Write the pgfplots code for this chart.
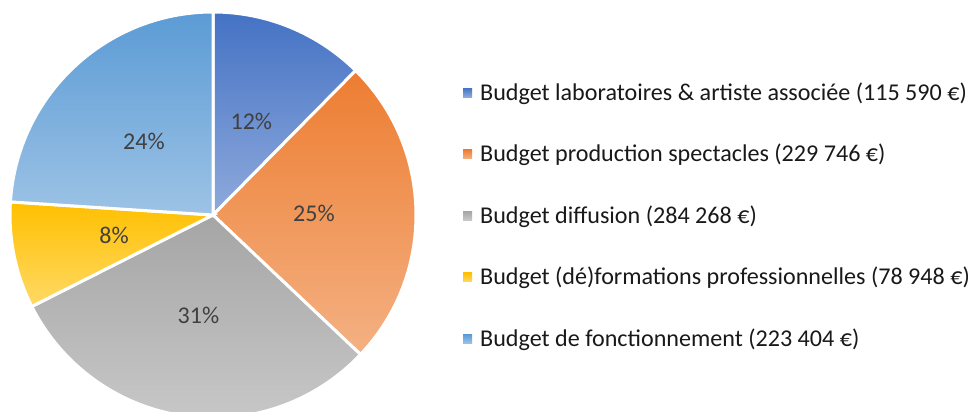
\documentclass[border=0pt]{standalone}
\usepackage{pgfplots}
\pgfplotsset{compat=1.18}
\usepackage{fontspec}
\setmainfont{Carlito}
\definecolor{c1a}{HTML}{4472C4}\definecolor{c1b}{HTML}{8FAADC}
\definecolor{c2a}{HTML}{ED7D31}\definecolor{c2b}{HTML}{F4B183}
\definecolor{c3a}{HTML}{A5A5A5}\definecolor{c3b}{HTML}{C9C9C9}
\definecolor{c4a}{HTML}{FFC000}\definecolor{c4b}{HTML}{FFD966}
\definecolor{c5a}{HTML}{5B9BD5}\definecolor{c5b}{HTML}{9DC3E6}
\definecolor{lbl}{HTML}{404040}
\begin{document}
\begin{tikzpicture}
% values in thousands of euros
\def\vA{115.590}\def\vB{229.746}\def\vC{284.268}\def\vD{78.948}\def\vE{223.404}
\pgfmathsetmacro\tot{\vA+\vB+\vC+\vD+\vE}
\pgfmathsetmacro\aA{90}
\pgfmathsetmacro\aB{\aA-\vA/\tot*360}
\pgfmathsetmacro\aC{\aB-\vB/\tot*360}
\pgfmathsetmacro\aD{\aC-\vC/\tot*360}
\pgfmathsetmacro\aE{\aD-\vD/\tot*360}
\pgfmathsetmacro\aF{\aE-\vE/\tot*360}
\def\R{203pt}\def\L{101pt}
\begin{axis}[hide axis, scale only axis, width=974pt, height=412pt,
  xmin=0, xmax=974, ymin=0, ymax=412, y dir=reverse]
\begin{scope}
\clip (axis cs:0,0) rectangle (axis cs:974,412);
\filldraw[top color=c1a, bottom color=c1b, draw=white, line width=3pt]
  (axis cs:213,215) -- ++(\aA:\R) arc[start angle=\aA, end angle=\aB, radius=\R] -- cycle;
\filldraw[top color=c2a, bottom color=c2b, draw=white, line width=3pt]
  (axis cs:213,215) -- ++(\aB:\R) arc[start angle=\aB, end angle=\aC, radius=\R] -- cycle;
\filldraw[top color=c3a, bottom color=c3b, draw=white, line width=3pt]
  (axis cs:213,215) -- ++(\aC:\R) arc[start angle=\aC, end angle=\aD, radius=\R] -- cycle;
\filldraw[top color=c4a, bottom color=c4b, draw=white, line width=3pt]
  (axis cs:213,215) -- ++(\aD:\R) arc[start angle=\aD, end angle=\aE, radius=\R] -- cycle;
\filldraw[top color=c5a, bottom color=c5b, draw=white, line width=3pt]
  (axis cs:213,215) -- ++(\aE:\R) arc[start angle=\aE, end angle=\aF, radius=\R] -- cycle;
\end{scope}
\tikzset{pl/.style={font=\fontsize{24}{28}\selectfont, text=lbl, inner sep=0pt}}
\path (axis cs:213,215) ++({(\aA+\aB)/2}:\L) node[pl] {12\%};
\path (axis cs:213,215) ++({(\aB+\aC)/2}:\L) node[pl] {25\%};
\path (axis cs:213,215) ++({(\aC+\aD)/2}:\L) node[pl] {31\%};
\path (axis cs:213,215) ++({(\aD+\aE)/2}:\L) node[pl] {8\%};
\path (axis cs:213,215) ++({(\aE+\aF)/2}:\L) node[pl] {24\%};
% legend
\tikzset{lg/.style={font=\fontsize{24.1}{28}\selectfont, text=black!90, inner sep=0pt, anchor=base west}}
\shade[top color=c1a, bottom color=c1b] (axis cs:463,88) rectangle (axis cs:472,97);
\node[lg] at (axis cs:480,100) {Budget laboratoires \& artiste associée (115 590 €)};
\shade[top color=c2a, bottom color=c2b] (axis cs:463,149.6) rectangle (axis cs:472,158.6);
\node[lg] at (axis cs:480,161.6) {Budget production spectacles (229 746 €)};
\shade[top color=c3a, bottom color=c3b] (axis cs:463,211.2) rectangle (axis cs:472,220.2);
\node[lg] at (axis cs:480,223.2) {Budget diffusion (284 268 €)};
\shade[top color=c4a, bottom color=c4b] (axis cs:463,272.8) rectangle (axis cs:472,281.8);
\node[lg] at (axis cs:480,284.8) {Budget (dé)formations professionnelles (78 948 €)};
\shade[top color=c5a, bottom color=c5b] (axis cs:463,334.4) rectangle (axis cs:472,343.4);
\node[lg] at (axis cs:480,346.4) {Budget de fonctionnement (223 404 €)};
\end{axis}
\end{tikzpicture}
\end{document}
